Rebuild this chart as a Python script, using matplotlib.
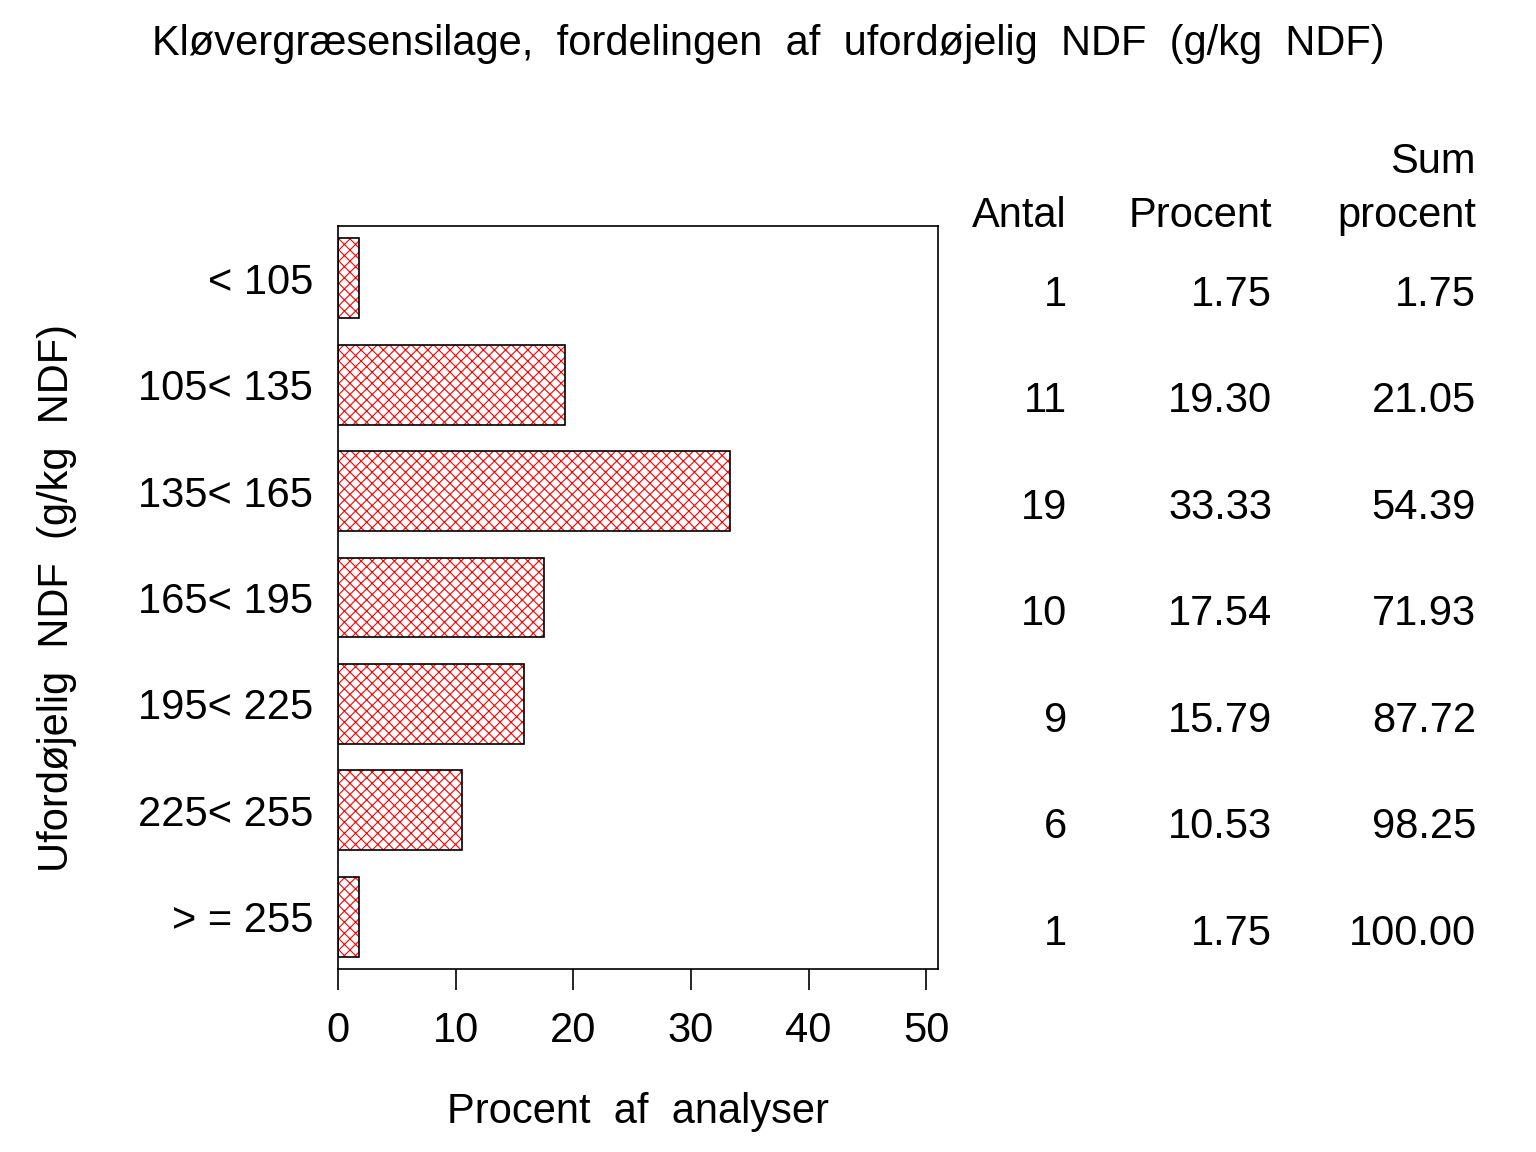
import numpy as np
import matplotlib
matplotlib.use('Agg')
import matplotlib.pyplot as plt
from matplotlib.transforms import blended_transform_factory

plt.rcParams['font.family'] = ['Liberation Sans', 'DejaVu Sans']
plt.rcParams['hatch.linewidth'] = 0.8

# data
klasser = ['< 105', '105< 135', '135< 165', '165< 195', '195< 225', '225< 255', '> = 255']
antal = [1, 11, 19, 10, 9, 6, 1]
procent = [1.75, 19.30, 33.33, 17.54, 15.79, 10.53, 1.75]
sum_procent = [1.75, 21.05, 54.39, 71.93, 87.72, 98.25, 100.00]
x_ticks = [0, 10, 20, 30, 40, 50]

fig = plt.figure(figsize=(15.36, 11.52), dpi=100)
ax = fig.add_axes([338 / 1536, 1 - 969 / 1152, 600 / 1536, 743 / 1152])

pos = np.arange(len(klasser))
# hatch in red, outline in black
ax.barh(pos, procent, height=0.75, color='white', edgecolor='red', hatch='xxx', linewidth=0)
ax.barh(pos, procent, height=0.75, fill=False, edgecolor='black', linewidth=1.2)

ax.set_xlim(0, 51)
ax.set_ylim(len(klasser) - 0.51, -0.49)
ax.set_xticks(x_ticks)
ax.set_yticks(pos)
ax.set_yticklabels(klasser)
ax.tick_params(axis='y', length=0, pad=18, labelsize=30)
ax.tick_params(axis='x', length=15, width=1.2, pad=15, labelsize=30)
for s in ax.spines.values():
    s.set_linewidth(1.2)

ax.set_xlabel('Procent  af  analyser', fontsize=30, labelpad=30)
ax.set_ylabel('Ufordøjelig  NDF  (g/kg  NDF)', fontsize=30, labelpad=44)

fig.text(0.5, 1 - 55 / 1152, 'Kløvergræsensilage,  fordelingen  af  ufordøjelig  NDF  (g/kg  NDF)',
         ha='center', va='baseline', fontsize=30)

# table on the right
col_x = [1067 / 1536, 1272 / 1536, 1476 / 1536]
hdr_y = 1 - 227 / 1152
fig.text(col_x[0], hdr_y, 'Antal', ha='right', va='baseline', fontsize=30)
fig.text(col_x[1], hdr_y, 'Procent', ha='right', va='baseline', fontsize=30)
fig.text(col_x[2], hdr_y, 'procent', ha='right', va='baseline', fontsize=30)
fig.text(col_x[2], 1 - 173 / 1152, 'Sum', ha='right', va='baseline', fontsize=30)

tr = blended_transform_factory(fig.transFigure, ax.transData)
for i in range(len(klasser)):
    y = pos[i] + 0.26
    ax.text(col_x[0], y, str(antal[i]), transform=tr, ha='right', va='baseline', fontsize=30)
    ax.text(col_x[1], y, f'{procent[i]:.2f}', transform=tr, ha='right', va='baseline', fontsize=30)
    ax.text(col_x[2], y, f'{sum_procent[i]:.2f}', transform=tr, ha='right', va='baseline', fontsize=30)

fig.savefig('out.png', dpi=100)
